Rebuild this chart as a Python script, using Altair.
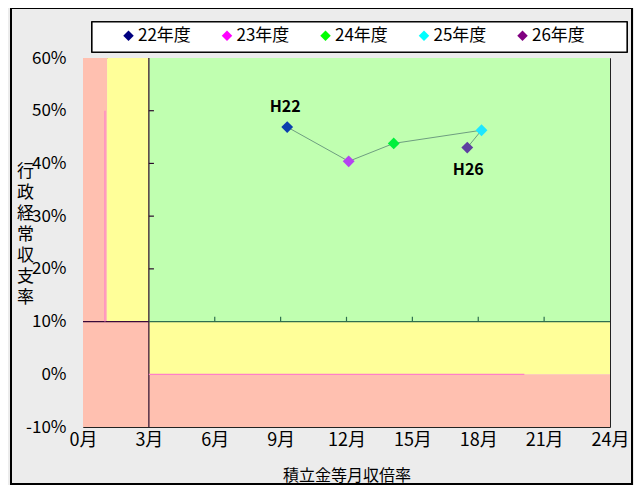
import altair as alt
import pandas as pd

# ---- data ----
years = ["22年度", "23年度", "24年度", "25年度", "26年度"]
months = [9.3, 12.1, 14.15, 18.15, 17.5]
rates = [46.9, 40.4, 43.8, 46.3, 43.0]
point_colors = ["#0B3FAE", "#B443F0", "#00F03C", "#1EE6FF", "#5E3FA0"]
legend_colors = ["#000080", "#FF00FF", "#00FF00", "#00FFFF", "#800080"]
point_labels = ["H22", "", "", "", "H26"]
label_side = ["above", "", "", "", "below"]

x_ticks = [0, 3, 6, 9, 12, 15, 18, 21, 24]
y_ticks = [-10, 0, 10, 20, 30, 40, 50, 60]

zone_x1 = [0, 1.1, 3, 0, 3, 3]
zone_x2 = [1.1, 3, 24, 3, 24, 24]
zone_y1 = [10, 10, 10, -10, 0, -10]
zone_y2 = [60, 60, 60, 10, 10, 0]
zone_colors = ["#FFC0B0", "#FFFF99", "#C0FFB0", "#FFC0B0", "#FFFF99", "#FFC0B0"]

rule_x1 = [3, 0, 3, 1.0, 3]
rule_x2 = [3, 3, 24, 1.0, 20.1]
rule_y1 = [-10, 10, 10, 10, 0]
rule_y2 = [60, 10, 10, 50, 0]
rule_colors = ["#2A0A2A", "#3A0A3A", "#2F6F4F", "#FF80C8", "#FF80C8"]

inner_x_ticks = [6, 9, 12, 15, 18, 21]
inner_y_ticks = [20, 30, 40, 50]

FONT = "Noto Sans CJK JP"

zone_df = pd.DataFrame({"x": zone_x1, "x2": zone_x2, "y": zone_y1, "y2": zone_y2, "c": zone_colors})
rule_df = pd.DataFrame({"x": rule_x1, "x2": rule_x2, "y": rule_y1, "y2": rule_y2, "c": rule_colors})
tick_df = pd.concat([
    pd.DataFrame({"x": inner_x_ticks, "x2": inner_x_ticks, "y": [10] * 6, "y2": [10.9] * 6, "c": ["#2F6F4F"] * 6}),
    pd.DataFrame({"x": [3] * 4, "x2": [3.23] * 4, "y": inner_y_ticks, "y2": inner_y_ticks, "c": ["#2A0A2A"] * 4}),
])
pts_df = pd.DataFrame({"x": months, "y": rates, "year": years, "c": point_colors,
                       "lab": point_labels, "side": label_side, "i": list(range(5))})

xs = alt.Scale(domain=[0, 24], nice=False, zero=False)
ys = alt.Scale(domain=[-10, 60], nice=False, zero=False)

zones = alt.Chart(zone_df).mark_rect().encode(
    x=alt.X("x:Q", scale=xs, axis=alt.Axis(
        values=x_ticks, labelExpr="datum.value + '月'", title="積立金等月収倍率",
        grid=False, ticks=False, domain=False, labelFontSize=18, labelFont=FONT,
        labelColor="black", labelPadding=4, labelFlush=False, labelBound=False,
        labelOverlap=False, titleFont=FONT, titleFontSize=16,
        titleFontWeight="normal", titleColor="black", titlePadding=18)),
    x2="x2:Q",
    y=alt.Y("y:Q", scale=ys, axis=alt.Axis(
        values=y_ticks, labelExpr="datum.value + '%'", title=list("行政経常収支率"),
        grid=False, ticks=False, domain=False, labelFontSize=17, labelFont=FONT,
        labelColor="black", labelPadding=17, labelFlush=False, labelOverlap=False,
        titleFont=FONT, titleFontSize=17,
        titleFontWeight="normal", titleColor="black", titleAngle=0,
        titleAlign="center", titleBaseline="top", titleX=-58, titleY=105,
        titleLineHeight=21)),
    y2="y2:Q",
    fill=alt.Fill("c:N", scale=None),
)

rules = alt.Chart(rule_df).mark_rule(strokeWidth=1.2).encode(
    x="x:Q", x2="x2:Q", y="y:Q", y2="y2:Q", stroke=alt.Stroke("c:N", scale=None))

ticks = alt.Chart(tick_df).mark_rule(strokeWidth=1.2).encode(
    x="x:Q", x2="x2:Q", y="y:Q", y2="y2:Q", stroke=alt.Stroke("c:N", scale=None))

line = alt.Chart(pts_df).mark_line(color="#6E9E80", strokeWidth=1).encode(
    x="x:Q", y="y:Q", order="i:Q")

points = alt.Chart(pts_df).mark_point(shape="diamond", filled=True, size=140, opacity=1).encode(
    x="x:Q", y="y:Q", fill=alt.Fill("c:N", scale=None))

labels_above = alt.Chart(pts_df).transform_filter("datum.side == 'above'").mark_text(
    font=FONT, fontSize=16, fontWeight="bold", color="black", dy=-20, dx=-2).encode(
    x="x:Q", y="y:Q", text="lab:N")

labels_below = alt.Chart(pts_df).transform_filter("datum.side == 'below'").mark_text(
    font=FONT, fontSize=16, fontWeight="bold", color="black", dy=22, dx=1).encode(
    x="x:Q", y="y:Q", text="lab:N")

legend_box = alt.Chart(pts_df).mark_rect(fill="white", stroke="black", strokeWidth=1.2).encode(
    x=alt.value(9), x2=alt.value(544), y=alt.value(-36), y2=alt.value(-6))

outer_border = alt.Chart(pts_df).mark_rect(filled=False, stroke="black", strokeWidth=1.5).encode(
    x=alt.value(-72), x2=alt.value(549), y=alt.value(-50), y2=alt.value(426))

legend_layer = alt.Chart(pts_df).mark_point(shape="diamond", filled=True, opacity=0).encode(
    x="x:Q", y="y:Q",
    color=alt.Color("year:N", scale=alt.Scale(domain=years, range=legend_colors),
                    legend=alt.Legend(orient="none", legendX=37, legendY=-31, direction="horizontal",
                                      title=None, symbolType="diamond", symbolSize=110,
                                      symbolOpacity=1, symbolStrokeWidth=0, labelFont=FONT,
                                      labelFontSize=17, labelColor="black", columnPadding=27.5,
                                      labelOffset=1, padding=0)))

chart = alt.layer(outer_border, zones, rules, ticks, line, points, labels_above, labels_below,
                  legend_box, legend_layer).properties(
    width=527, height=369, autosize=alt.AutoSizeParams(type="none"),
    padding={"left": 75, "top": 50, "right": 24, "bottom": 58},
).configure(background="#ECECEC").configure_view(stroke="#222222", strokeWidth=1)

chart.save("out.html", embed_options={"renderer": "svg", "actions": False})
